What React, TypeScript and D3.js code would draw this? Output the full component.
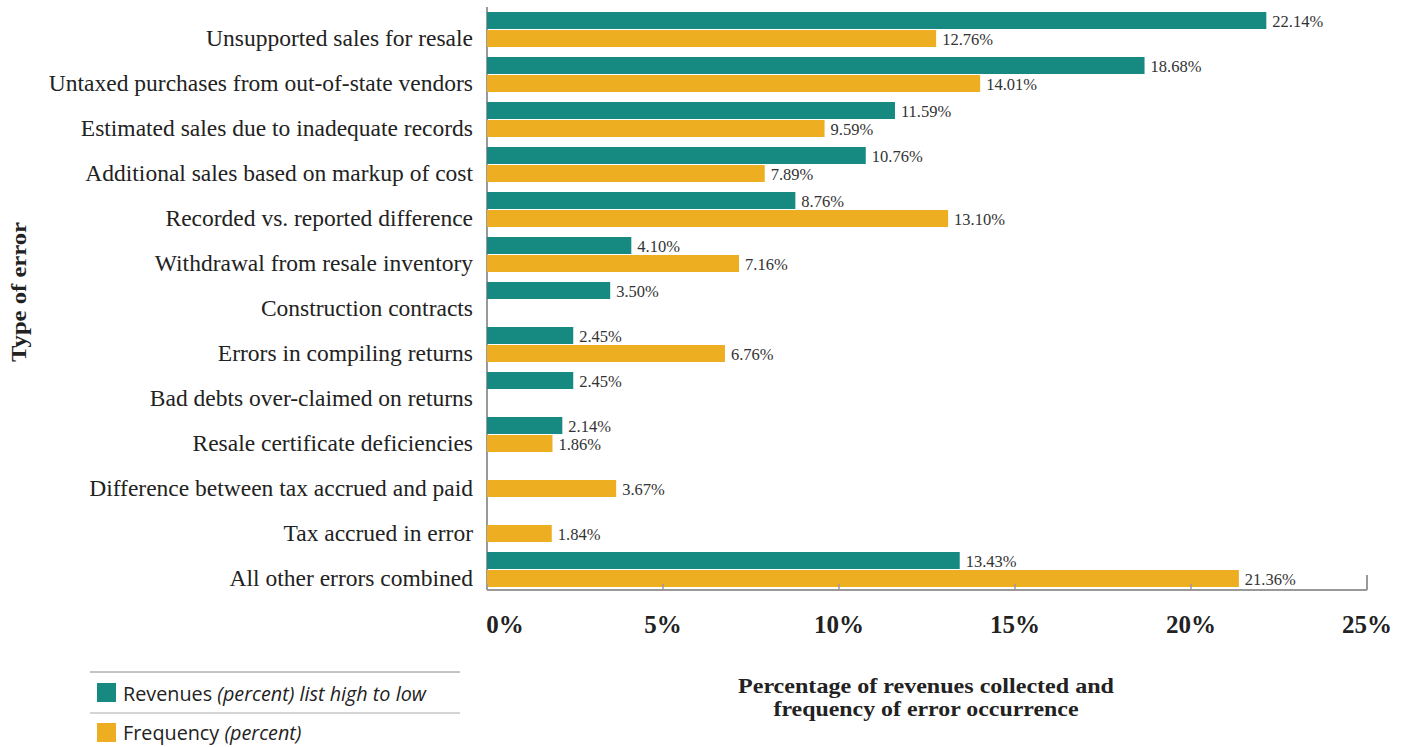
import React from "react";
import * as d3 from "d3";

const categories = [
  "Unsupported sales for resale",
  "Untaxed purchases from out-of-state vendors",
  "Estimated sales due to inadequate records",
  "Additional sales based on markup of cost",
  "Recorded vs. reported difference",
  "Withdrawal from resale inventory",
  "Construction contracts",
  "Errors in compiling returns",
  "Bad debts over-claimed on returns",
  "Resale certificate deficiencies",
  "Difference between tax accrued and paid",
  "Tax accrued in error",
  "All other errors combined",
];
const revenues: (number | null)[] = [22.14, 18.68, 11.59, 10.76, 8.76, 4.1, 3.5, 2.45, 2.45, 2.14, null, null, 13.43];
const frequency: (number | null)[] = [12.76, 14.01, 9.59, 7.89, 13.1, 7.16, null, 6.76, null, 1.86, 3.67, 1.84, 21.36];
const xTicks = [0, 5, 10, 15, 20, 25];

const TEAL = "#168a80";
const ORANGE = "#edae22";
const SERIF = "'Liberation Serif', 'Times New Roman', serif";
const SANS = "'Open Sans', 'Noto Sans', sans-serif";

export default function App() {
  const W = 1406, H = 747;
  const x0 = 487, x1 = 1367;
  const x = d3.scaleLinear().domain([0, 25]).range([x0, x1]);
  const y = d3.scaleBand<string>().domain(categories).range([12, 587]).paddingInner(10 / 45).paddingOuter(0).align(0);
  const bh = y.bandwidth() / 2;
  const axisY = 590;
  const fmt = (v: number) => v.toFixed(2) + "%";

  return (
    <svg width={W} height={H} style={{ position: "absolute", left: 0, top: 0, background: "#fff" }}>
      <line x1={x0} x2={x0} y1={7} y2={axisY} stroke="#999" strokeWidth={2} />
      {categories.map((c, i) => {
        const top = y(c)!;
        const r = revenues[i];
        const f = frequency[i];
        return (
          <g key={c}>
            <text x={473} y={top + bh * 1.5 - 0.5} textAnchor="end" dominantBaseline="central"
              fontFamily={SERIF} fontSize={23.5} fill="#222">{c}</text>
            {r != null && (
              <>
                <rect x={x(0)} y={top} width={x(r) - x(0)} height={bh - 0.5} fill={TEAL} />
                <text x={x(r) + 6} y={top + bh / 2 + 1} dominantBaseline="central" fontFamily={SERIF}
                  fontSize={16.5} fill="#333">{fmt(r)}</text>
              </>
            )}
            {f != null && (
              <>
                <rect x={x(0)} y={top + bh + 0.5} width={x(f) - x(0)} height={bh - 0.5} fill={ORANGE} />
                <text x={x(f) + 6} y={top + bh * 1.5 + 1.5} dominantBaseline="central" fontFamily={SERIF}
                  fontSize={16.5} fill="#333">{fmt(f)}</text>
              </>
            )}
          </g>
        );
      })}
      <line x1={x0} x2={x1} y1={axisY} y2={axisY} stroke="#999" strokeWidth={2} />
      {xTicks.map((t) => (
        <g key={t}>
          <line x1={x(t)} x2={x(t)} y1={axisY} y2={t === 25 ? axisY - 15 : axisY - 6} stroke="#999" strokeWidth={t === 25 ? 2 : 1.5} />
          <text x={t === 0 ? x(t) + 18 : x(t)} y={624} textAnchor="middle" dominantBaseline="central"
            fontFamily={SERIF} fontWeight="bold" fontSize={25} fill="#222">{t}%</text>
        </g>
      ))}
      <text transform="translate(19,292) rotate(-90)" textAnchor="middle" dominantBaseline="central"
        fontFamily={SERIF} fontWeight="bold" fontSize={21} textLength={140} lengthAdjust="spacingAndGlyphs"
        fill="#222">Type of error</text>
      <text x={926} y={686} textAnchor="middle" dominantBaseline="central" fontFamily={SERIF}
        fontWeight="bold" fontSize={21} textLength={376} lengthAdjust="spacingAndGlyphs" fill="#222">Percentage of revenues collected and</text>
      <text x={926} y={709} textAnchor="middle" dominantBaseline="central" fontFamily={SERIF}
        fontWeight="bold" fontSize={21} textLength={305} lengthAdjust="spacingAndGlyphs" fill="#222">frequency of error occurrence</text>
      <line x1={90} x2={460} y1={672} y2={672} stroke="#888" strokeWidth={1} />
      <line x1={90} x2={460} y1={713} y2={713} stroke="#aaa" strokeWidth={1} />
      <rect x={97} y={683} width={19} height={19} fill={TEAL} />
      <text x={123} y={693} dominantBaseline="central" fontFamily={SANS} fontSize={19.8} fill="#222">
        Revenues <tspan fontStyle="italic">(percent) list high to low</tspan>
      </text>
      <rect x={97} y={723} width={19} height={19} fill={ORANGE} />
      <text x={123} y={732} dominantBaseline="central" fontFamily={SANS} fontSize={19.8} fill="#222">
        Frequency <tspan fontStyle="italic">(percent)</tspan>
      </text>
    </svg>
  );
}
